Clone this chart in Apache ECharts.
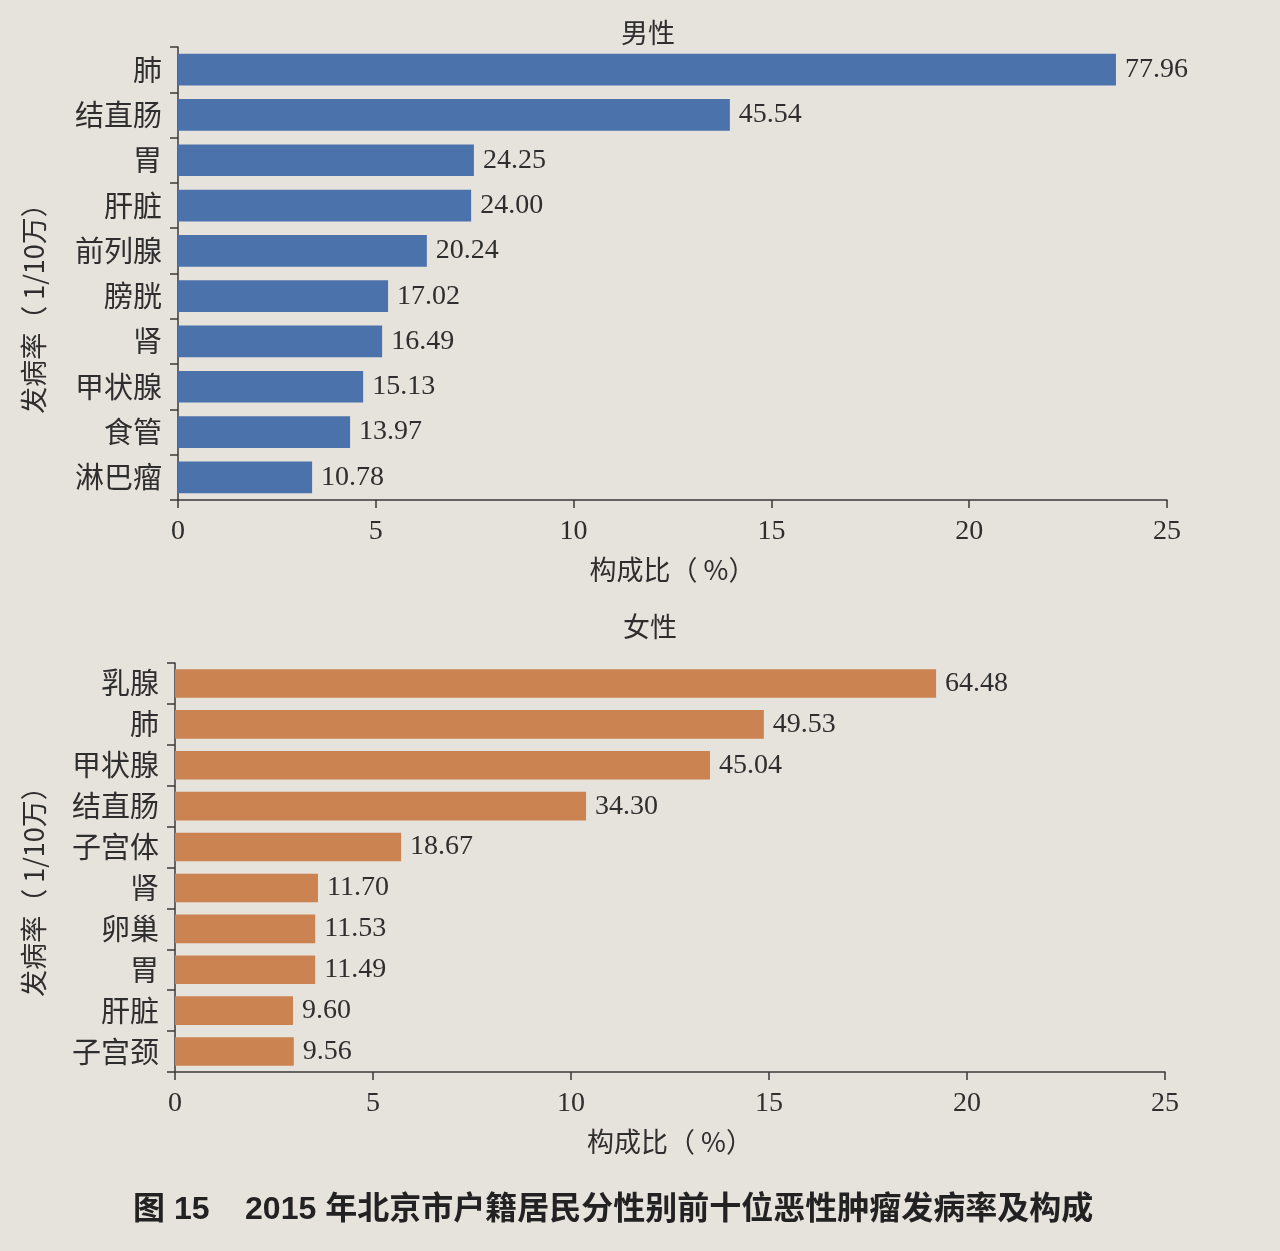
<!DOCTYPE html>
<html><head><meta charset="utf-8">
<script src="https://cdn.jsdelivr.net/npm/echarts@6/dist/echarts.min.js"></script>
<style>html,body{margin:0;padding:0;background:#e6e2dc;}#c{width:1280px;height:1251px;}</style>
</head><body><div id="c"></div>
<script>
const maleCategories = ['肺','结直肠','胃','肝脏','前列腺','膀胱','肾','甲状腺','食管','淋巴瘤'];
const malePercent = [23.71, 13.95, 7.48, 7.41, 6.29, 5.31, 5.16, 4.68, 4.35, 3.39];
const maleRate = ['77.96','45.54','24.25','24.00','20.24','17.02','16.49','15.13','13.97','10.78'];
const femaleCategories = ['乳腺','肺','甲状腺','结直肠','子宫体','肾','卵巢','胃','肝脏','子宫颈'];
const femalePercent = [19.22, 14.87, 13.51, 10.38, 5.71, 3.61, 3.54, 3.54, 2.98, 3.00];
const femaleRate = ['64.48','49.53','45.04','34.30','18.67','11.70','11.53','11.49','9.60','9.56'];
const xTicks = [0, 5, 10, 15, 20, 25];

const serif = '"Liberation Serif", "DejaVu Serif", serif';
const cjk = '"Noto Sans CJK SC", sans-serif';
const textColor = '#2e2e2e';
const axisColor = '#3a3a3a';

function xAxisDef(gridIndex) {
  return {
    type: 'value', gridIndex, min: xTicks[0], max: xTicks[xTicks.length-1], interval: 5,
    axisLine: {show: true, lineStyle: {color: axisColor, width: 1.5}},
    axisTick: {show: true, length: 8, lineStyle: {color: axisColor, width: 1.5}},
    splitLine: {show: false},
    axisLabel: {fontFamily: serif, fontSize: 28, color: textColor, margin: 18},
    name: '构成比（ %）', nameLocation: 'middle', nameGap: 56,
    nameTextStyle: {fontFamily: cjk, fontSize: 27, color: textColor}
  };
}
function yAxisDef(gridIndex, cats) {
  return {
    type: 'category', gridIndex, data: cats, inverse: true,
    axisLine: {show: true, lineStyle: {color: axisColor, width: 1.5}},
    axisTick: {show: true, length: 8, alignWithLabel: false, lineStyle: {color: axisColor, width: 1.5}},
    axisLabel: {fontFamily: cjk, fontSize: 29, color: textColor, margin: 16}
  };
}
function seriesDef(idx, values, rates, color) {
  return {
    type: 'bar', xAxisIndex: idx, yAxisIndex: idx, data: values, barWidth: '70%',
    itemStyle: {color},
    label: {show: true, position: 'right', distance: 9, fontFamily: serif, fontSize: 28, color: textColor,
      formatter: p => rates[p.dataIndex]},
    animation: false
  };
}
function yName(y) {
  return {
    type: 'text', x: 34, y, rotation: Math.PI / 2,
    style: {text: '发病率（ 1/10万）', fontFamily: cjk, fontSize: 27, fill: textColor,
      textAlign: 'center', textVerticalAlign: 'middle'}
  };
}

const chart = echarts.init(document.getElementById('c'));
chart.setOption({
  backgroundColor: '#e6e2dc',
  animation: false,
  title: [
    {text: '男性', left: 643, top: 14, textAlign: 'center', textStyle: {fontFamily: cjk, fontSize: 27, fontWeight: 'normal', color: textColor}},
    {text: '女性', left: 645, top: 608, textAlign: 'center', textStyle: {fontFamily: cjk, fontSize: 27, fontWeight: 'normal', color: textColor}}
  ],
  grid: [
    {left: 178, top: 47, width: 989, height: 453},
    {left: 175, top: 663, width: 990, height: 409}
  ],
  xAxis: [xAxisDef(0), xAxisDef(1)],
  yAxis: [yAxisDef(0, maleCategories), yAxisDef(1, femaleCategories)],
  series: [
    seriesDef(0, malePercent, maleRate, '#4c72ab'),
    seriesDef(1, femalePercent, femaleRate, '#cb8352')
  ],
  graphic: [
    yName(302),
    yName(885),
    {
      type: 'text', left: 133, top: 1194,
      style: {text: '图 15    2015 年北京市户籍居民分性别前十位恶性肿瘤发病率及构成',
        fontFamily: '"Liberation Sans", "Noto Sans CJK SC", sans-serif', fontSize: 32, fontWeight: 'bold', fill: '#222'}
    }
  ]
});
</script></body></html>
